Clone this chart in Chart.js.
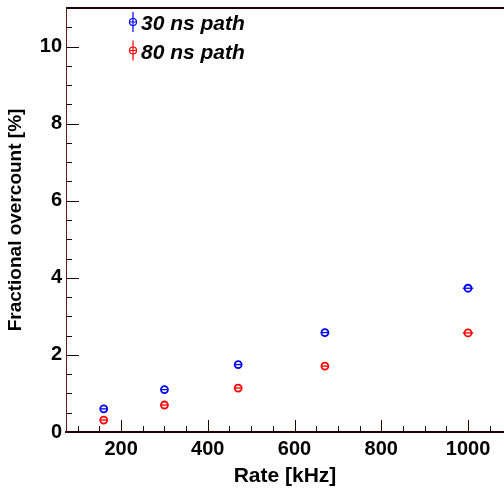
<!DOCTYPE html>
<html>
<head>
<meta charset="utf-8">
<script src="https://cdn.jsdelivr.net/npm/chart.js@4/dist/chart.umd.min.js"></script>
<style>
  html, body { margin: 0; padding: 0; background: #fff; }
  #wrap { width: 504px; height: 489px; }
</style>
</head>
<body>
<div id="wrap"><canvas id="overcountChart"></canvas></div>
<script>
// Values
const rates = [160, 300, 470, 670, 1000];           // kHz
const rateErr = [3, 4, 5, 7, 12];
const path30 = [0.60, 1.10, 1.75, 2.58, 3.73];      // %
const path80 = [0.31, 0.70, 1.14, 1.71, 2.57];
const valErr = [0.05, 0.05, 0.05, 0.06, 0.07];
const xTickLabels = [200, 400, 600, 800, 1000];
const yTickLabels = [0, 2, 4, 6, 8, 10];
const seriesNames = ['30 ns path', '80 ns path'];
const seriesColors = ['#0000ff', '#ff0000'];

const axisColor = '#1e0000';
const labelFont = { family: "'Liberation Sans', Arial, sans-serif", size: 20, weight: 'bold' };

function toPoints(ys) {
    return rates.map((x, i) => ({ x: x, y: ys[i], xe: rateErr[i], ye: valErr[i] }));
}

// error bars drawn through each marker, ROOT style
const errorBars = {
    id: 'errorBars',
    afterDatasetsDraw(chart) {
        const { ctx, scales: { x, y } } = chart;
        ctx.save();
        chart.data.datasets.forEach(ds => {
            ctx.strokeStyle = ds.borderColor;
            ctx.lineWidth = 1.3;
            ds.data.forEach(p => {
                const px = x.getPixelForValue(p.x), py = y.getPixelForValue(p.y);
                const x0 = Math.min(x.getPixelForValue(p.x - p.xe), px - 3.5);
                const x1 = Math.max(x.getPixelForValue(p.x + p.xe), px + 3.5);
                ctx.beginPath();
                ctx.moveTo(x0, py); ctx.lineTo(x1, py);
                const y0 = y.getPixelForValue(p.y + p.ye), y1 = y.getPixelForValue(p.y - p.ye);
                if (py - y0 > 4) { ctx.moveTo(px, y0); ctx.lineTo(px, py - 4); }
                if (y1 - py > 4) { ctx.moveTo(px, py + 4); ctx.lineTo(px, y1); }
                ctx.stroke();
            });
        });
        ctx.restore();
    }
};

// frame top line and inward tick marks
const frameTicks = {
    id: 'frameTicks',
    afterDraw(chart) {
        const { ctx, chartArea: a, scales: { x, y } } = chart;
        ctx.save();
        ctx.strokeStyle = axisColor;
        ctx.lineWidth = 2;
        ctx.beginPath();
        ctx.moveTo(a.left, a.top); ctx.lineTo(a.right, a.top);
        ctx.stroke();

        ctx.lineWidth = 1;
        ctx.beginPath();
        for (let v = 100; v <= 1080; v += 50) {
            const px = Math.round(x.getPixelForValue(v)) + 0.5;
            const len = xTickLabels.includes(v) ? 12 : 6;
            ctx.moveTo(px, a.bottom); ctx.lineTo(px, a.bottom - len);
        }
        for (let v = 0.5; v <= 10.6; v += 0.5) {
            const py = Math.round(y.getPixelForValue(v)) + 0.5;
            const len = (Math.abs(v % 2) < 0.01) ? 13 : 6;
            ctx.moveTo(a.left, py); ctx.lineTo(a.left + len, py);
        }
        ctx.stroke();
        ctx.restore();
    }
};

// legend box in upper left of the frame
const rootLegend = {
    id: 'rootLegend',
    afterDraw(chart) {
        const { ctx } = chart;
        ctx.save();
        ctx.font = "italic bold 21px 'Liberation Sans', Arial, sans-serif";
        ctx.textBaseline = 'alphabetic';
        seriesNames.forEach((name, i) => {
            const cx = 133, cy = 22 + i * 28.5;
            ctx.strokeStyle = seriesColors[i];
            ctx.lineWidth = 1.2;
            ctx.beginPath();
            ctx.moveTo(cx, cy - 10); ctx.lineTo(cx, cy + 10);
            ctx.moveTo(cx - 4, cy); ctx.lineTo(cx + 4, cy);
            ctx.stroke();
            ctx.beginPath();
            ctx.arc(cx, cy, 3.5, 0, Math.PI * 2);
            ctx.stroke();
            ctx.fillStyle = '#000';
            ctx.fillText(name, 141, cy + 8);
        });
        ctx.restore();
    }
};

document.addEventListener('DOMContentLoaded', () => {
    const ctx = document.getElementById('overcountChart');
    new Chart(ctx, {
        type: 'scatter',
        data: {
            datasets: [
                {
                    label: seriesNames[0],
                    data: toPoints(path30),
                    borderColor: seriesColors[0],
                    backgroundColor: 'rgba(0,0,0,0)',
                    borderWidth: 1.8,
                    pointRadius: 3.5
                },
                {
                    label: seriesNames[1],
                    data: toPoints(path80),
                    borderColor: seriesColors[1],
                    backgroundColor: 'rgba(0,0,0,0)',
                    borderWidth: 1.8,
                    pointRadius: 3.5
                }
            ]
        },
        options: {
            responsive: true,
            maintainAspectRatio: false,
            animation: false,
            layout: { autoPadding: false, padding: { top: 8, right: 0, left: 0, bottom: 0 } },
            plugins: {
                legend: { display: false },
                tooltip: { enabled: false }
            },
            scales: {
                x: {
                    type: 'linear',
                    min: 73,
                    max: 1083,
                    afterBuildTicks: s => { s.ticks = xTickLabels.map(v => ({ value: v })); },
                    afterFit: s => { s.height = 57; s.paddingLeft = 0; s.paddingRight = 0; },
                    grid: { display: false, drawTicks: false },
                    border: { display: true, color: axisColor, width: 2 },
                    ticks: {
                        color: '#000', font: labelFont, padding: 5, maxRotation: 0,
                        callback: v => String(v)
                    },
                    title: {
                        display: true,
                        text: 'Rate [kHz]',
                        color: '#000',
                        font: { family: labelFont.family, size: 21, weight: 'bold' },
                        padding: { top: 0, bottom: 0 }
                    }
                },
                y: {
                    type: 'linear',
                    min: 0,
                    max: 11,
                    afterBuildTicks: s => { s.ticks = yTickLabels.map(v => ({ value: v })); },
                    afterFit: s => { s.width = 66; s.paddingTop = 0; s.paddingBottom = 0; },
                    grid: { display: false, drawTicks: false },
                    border: { display: true, color: '#6b1a1a', width: 1 },
                    ticks: { color: '#000', font: labelFont, padding: 4, callback: v => String(v) },
                    title: {
                        display: true,
                        text: 'Fractional overcount [%]',
                        color: '#000',
                        font: { family: labelFont.family, size: 19, weight: 'bold' },
                        padding: { top: 4, bottom: 0 }
                    }
                }
            }
        },
        plugins: [errorBars, frameTicks, rootLegend]
    });
});
</script>
</body>
</html>
